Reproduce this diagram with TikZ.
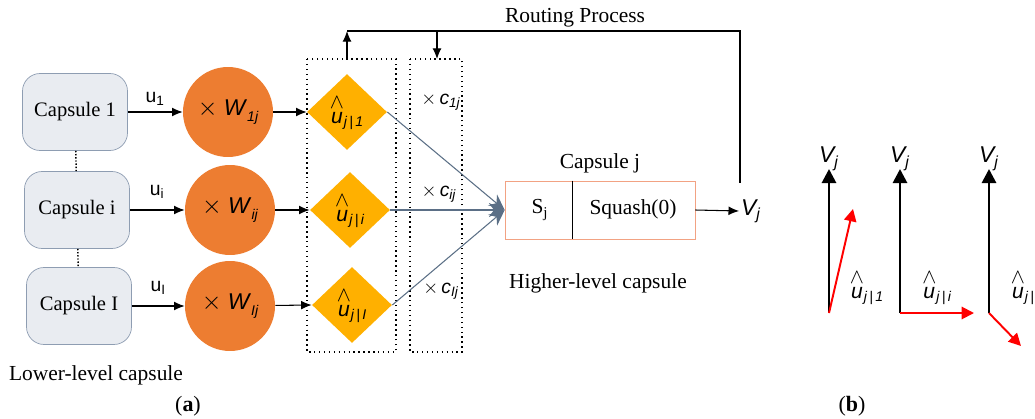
\documentclass[tikz,border=0pt]{standalone}
\usepackage{fontspec}
\setmainfont{Liberation Serif}
\setsansfont{Liberation Sans}
\usepackage{amsmath}
\usetikzlibrary{arrows.meta, calc, positioning, shapes.geometric}

\definecolor{capfill}{HTML}{E9ECF1}
\definecolor{capedge}{HTML}{8E9DB2}
\definecolor{wgtorange}{HTML}{ED7D31}
\definecolor{predyellow}{HTML}{FFB000}
\definecolor{linkgray}{HTML}{5B6F86}
\definecolor{boxedge}{HTML}{F2A283}

\newcommand{\sfi}[1]{\text{\sffamily\itshape #1}}
\newcommand{\uhat}[1]{$\overset{\textstyle\wedge}{\sfi{u}}_{\sfi{j\,|\,#1}}$}

\begin{document}
\begin{tikzpicture}[x=0.02cm, y=-0.02cm,
    capsule/.style={draw=capedge, fill=capfill, rounded corners=10pt, minimum width=2.1cm, minimum height=1.54cm, font=\fontsize{11.7}{13}\selectfont},
    weight/.style={circle, fill=wgtorange, minimum size=1.8cm, inner sep=0pt, font=\sffamily\fontsize{13}{15}\selectfont},
    pred/.style={diamond, fill=predyellow, minimum width=1.6cm, minimum height=1.52cm, inner sep=0pt, font=\fontsize{12}{14}\selectfont},
    dotbox/.style={dotted, line width=0.8pt},
    arr/.style={-{Latex[length=6pt,width=5pt]}, semithick},
    link/.style={-{Stealth[length=9pt,width=8pt]}, draw=linkgray, semithick},
    vecblack/.style={-{Triangle[length=8pt,width=8pt]}, line width=1.6pt},
    vecred/.style={-{Triangle[length=7pt,width=7pt]}, draw=red, fill=red, line width=1.1pt},
    lbl/.style={font=\fontsize{12.2}{14}\selectfont},
    sflbl/.style={font=\sffamily\fontsize{11}{13}\selectfont},
    vlbl/.style={font=\sffamily\fontsize{13}{15}\selectfont, inner sep=1pt}]
  \useasboundingbox (0,0) rectangle (1035,419);

  % lower-level capsules
  \node[capsule] (cap1) at (75,112) {Capsule 1};
  \node[capsule] (capi) at (77,210) {Capsule i};
  \node[capsule] (capI) at (79,306) {Capsule I};
  \draw[densely dotted, thick] (cap1) -- (capi);
  \draw[densely dotted, thick] (capi) -- (capI);

  % weight matrices
  \node[weight] (w1) at (228,112) {{\Large$\times$} \textit{W}{\fontsize{8}{9}\selectfont\textit{\raisebox{-3pt}{1j}}}};
  \node[weight] (wi) at (230,210) {{\Large$\times$} \textit{W}{\fontsize{8}{9}\selectfont\textit{\raisebox{-3pt}{ij}}}};
  \node[weight] (wI) at (230,306) {{\Large$\times$} \textit{W}{\fontsize{8}{9}\selectfont\textit{\raisebox{-3pt}{Ij}}}};

  \draw[arr] (cap1) -- (w1) node[midway, above, sflbl] {u\textsubscript{1}};
  \draw[arr] (capi) -- (wi) node[midway, above=3pt, sflbl] {u\textsubscript{i}};
  \draw[arr] (capI) -- (wI) node[midway, above=3pt, sflbl] {u\textsubscript{I}};

  % predictions
  \node[pred] (d1) at (347,112) {\uhat{1}};
  \node[pred] (di) at (350,210) {\uhat{i}};
  \node[pred] (dI) at (352,305) {\uhat{I}};
  \draw[arr] (w1) -- (d1.west);
  \draw[arr] (wi) -- (di.west);
  \draw[arr] (wI) -- (dI.west);

  \draw[dotbox] (307,59) rectangle (396,352);
  \draw[dotbox] (410,59) rectangle (462,352);

  \node[sflbl] (c1) at (441,102) {$\times$\,$\sfi{c}_{\sfi{1j}}$};
  \node[sflbl] (ci) at (439,194) {$\times$\,$\sfi{c}_{\sfi{ij}}$};
  \node[sflbl] (cI) at (441,291) {$\times$\,$\sfi{c}_{\sfi{Ij}}$};

  % higher-level capsule
  \node[draw=boxedge, minimum width=3.8cm, minimum height=1.16cm] (capj) at (600,210) {};
  \draw ($(capj.north west)+(68,0)$) -- ($(capj.south west)+(68,0)$);
  \node[lbl] (sj) at (540,210) {S\textsubscript{j}};
  \node[lbl] (sq) at (633,209) {Squash(0)};
  \node[lbl, above=1pt of capj] (capjlbl) {Capsule j};
  \node[lbl] (higher) at (598,283) {Higher-level capsule};

  \draw[link] (d1.east) -- (capj.west);
  \draw[link] (di.east) -- (capj.west);
  \draw[link] (dI.east) -- (capj.west);

  \node[vlbl] (vj) at (751,211) {$\sfi{V}_{\sfi{j}}$};
  \draw[arr] (capj.east) -- (vj.west);

  % routing loop
  \coordinate (box1top) at (347,59);
  \coordinate (box2top) at (437,59);
  \coordinate (rt1) at (347,31);
  \coordinate (rt2) at (437,31);
  \coordinate (rt3) at (740,31);
  \coordinate (rt4) at (740,183);
  \draw[arr] (box1top) -- (rt1);
  \draw[arr] (rt2) -- (box2top);
  \draw[semithick] (rt1) -- (rt3) -- (rt4);
  \node[lbl] (routing) at (575,18) {Routing Process};

  \node[lbl] (lower) at (96,375) {Lower-level capsule};
  \node[font=\fontsize{12.5}{14}\selectfont] (capa) at (188,406) {(\textbf{a})};
  \node[font=\fontsize{12.5}{14}\selectfont] (capb) at (852,406) {(\textbf{b})};

  % (b) vector pictures
  \coordinate (o1) at (829,313);
  \coordinate (oi) at (900,313);
  \coordinate (oI) at (989,313);
  \draw[vecblack] (o1) -- (829,169) coordinate (t1);
  \draw[vecblack] (oi) -- (900,169) coordinate (ti);
  \draw[vecblack] (oI) -- (989,169) coordinate (tI);
  \node[vlbl, above=-2pt] (v1) at (t1) {$\sfi{V}_{\sfi{j}}$};
  \node[vlbl, above=-2pt] (vi) at (ti) {$\sfi{V}_{\sfi{j}}$};
  \node[vlbl, above=-2pt] (vI) at (tI) {$\sfi{V}_{\sfi{j}}$};
  \draw[vecred] (o1) -- (853,209);
  \draw[vecred] (oi) -- (974,313);
  \draw[vecred] (oI) -- (1021,346);
  \node[font=\fontsize{12}{14}\selectfont] (u1) at (867,287) {\uhat{1}};
  \node[font=\fontsize{12}{14}\selectfont] (ui) at (937,287) {\uhat{i}};
  \node[font=\fontsize{12}{14}\selectfont] (uI) at (1026,287) {\uhat{I}};
\end{tikzpicture}
\end{document}
